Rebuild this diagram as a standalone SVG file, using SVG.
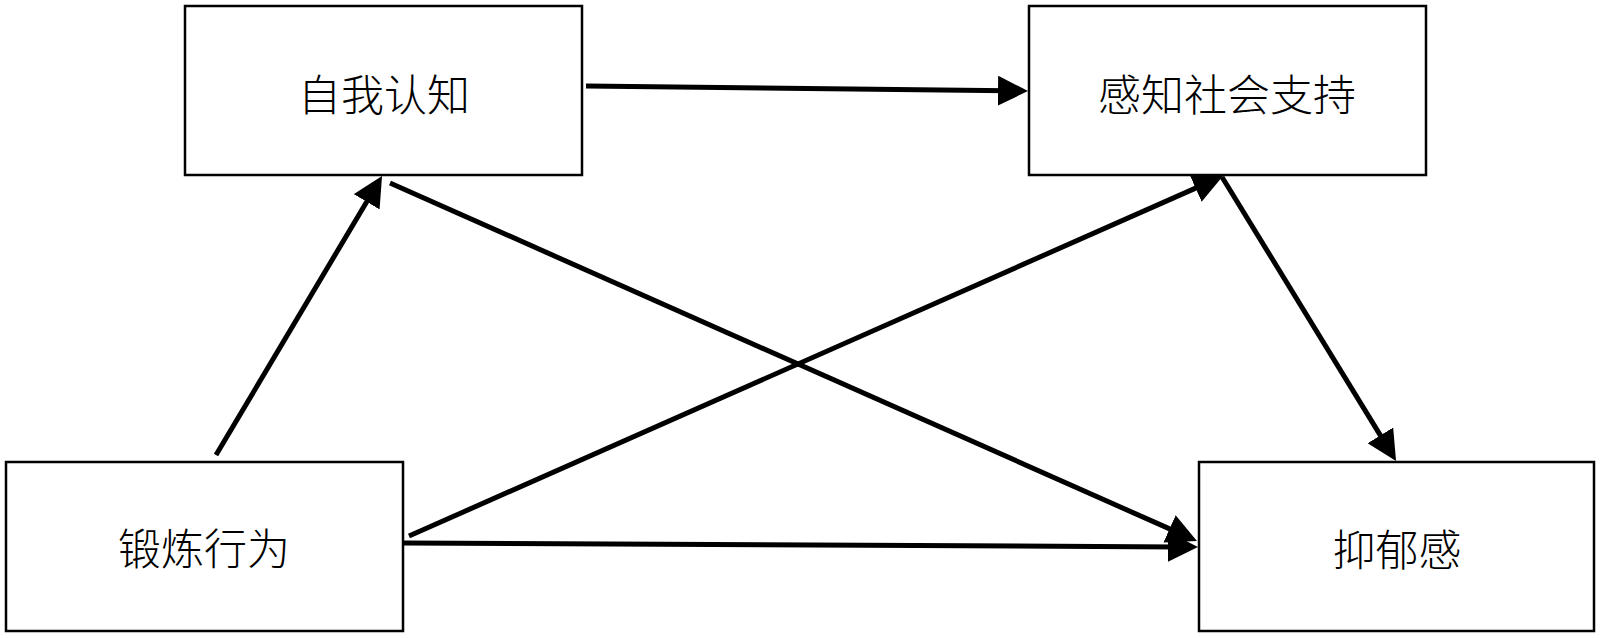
<svg xmlns="http://www.w3.org/2000/svg" width="1600" height="638" viewBox="0 0 1600 638">
<style>
.box{fill:#fff;stroke:#000;stroke-width:2.5}
.lbl{font-family:"Noto Sans CJK SC","Noto Sans",sans-serif;font-size:43px;font-weight:300;fill:#000;text-anchor:middle;dominant-baseline:central}
.edge{stroke:#000;stroke-width:5;fill:none;marker-end:url(#arr)}
</style>
<defs>
<marker id="arr" viewBox="0 0 30 30" refX="10" refY="15" markerWidth="30" markerHeight="30" markerUnits="userSpaceOnUse" orient="auto">
<path d="M0,0 L30,15 L0,30 z" fill="#000"/>
</marker>
</defs>
<rect width="1600" height="638" fill="#fff"/>
<g id="node-self">
<rect class="box" x="185" y="6" width="397" height="169"/>
<text class="lbl" x="384" y="92">自我认知</text>
</g>
<g id="node-support">
<rect class="box" x="1029" y="6" width="397" height="169"/>
<text class="lbl" x="1227" y="92">感知社会支持</text>
</g>
<g id="node-exercise">
<rect class="box" x="6" y="462" width="397" height="169"/>
<text class="lbl" x="204" y="546">锻炼行为</text>
</g>
<g id="node-depression">
<rect class="box" x="1199" y="462" width="395" height="169"/>
<text class="lbl" x="1397" y="547">抑郁感</text>
</g>
<g id="connectors">
<line class="edge" x1="586" y1="86" x2="1008" y2="90.8"/>
<line class="edge" x1="216" y1="455" x2="371.8" y2="193.2"/>
<line class="edge" x1="390" y1="183" x2="1178.7" y2="532.9"/>
<line class="edge" x1="409" y1="536" x2="1204.7" y2="184.1"/>
<line class="edge" x1="1222" y1="177" x2="1385.6" y2="443.9"/>
<line class="edge" x1="404" y1="543" x2="1178" y2="546.9"/>
</g>
</svg>
